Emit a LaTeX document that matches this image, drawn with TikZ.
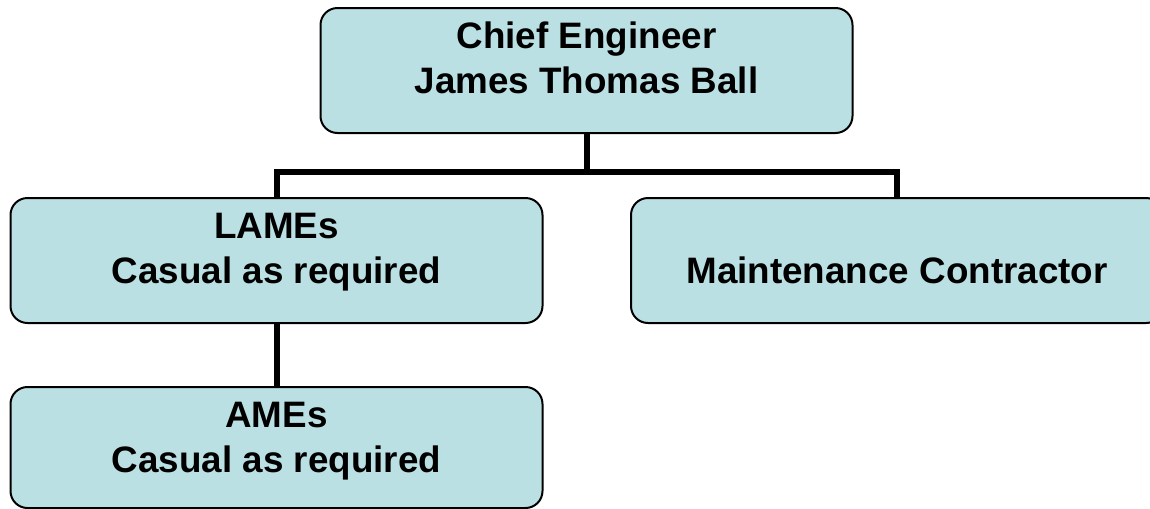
\documentclass[tikz,border=0pt]{standalone}
\usepackage{fontspec}
\setmainfont{Liberation Sans}
\definecolor{postfill}{RGB}{187,224,227}
\begin{document}
\begin{tikzpicture}[x=0.75pt,y=-0.75pt,
  post/.style={draw,line width=1.5pt,fill=postfill,rounded corners=12.75pt,
    minimum width=399pt,inner ysep=0pt,align=center,anchor=north,
    font=\bfseries\fontsize{27.6}{33.4}\selectfont,
    text height=63.75pt,text depth=30pt},
  link/.style={line width=4.5pt}]
  \useasboundingbox (0,0) rectangle (1150,508);
  \clip (0,0) rectangle (1150,508);
  \node[post] (chief) at (586.5,7) {Chief Engineer\\James Thomas Ball};
  \node[post] (lames) at (276.5,197) {LAMEs\\Casual as required};
  \node[post] (maint) at (897,197) {Maintenance Contractor};
  \node[post,text depth=27pt] (ames) at (276.5,386) {AMEs\\Casual as required};
  \draw[link] (chief.south) -- ++(0,39);
  \draw[link] (lames.north) -- ++(0,-25) -| (maint.north);
  \draw[link] (lames.south) -- (ames.north);
\end{tikzpicture}
\end{document}
